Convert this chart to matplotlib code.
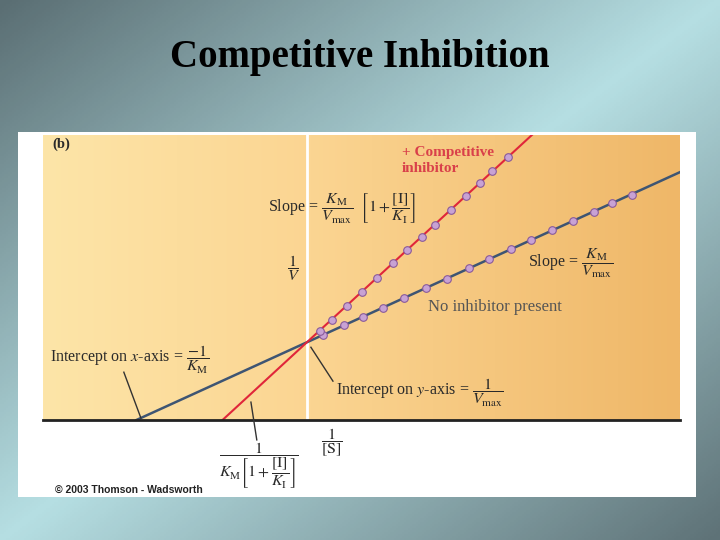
import numpy as np
import matplotlib.pyplot as plt
from matplotlib.colors import LinearSegmentedColormap
from matplotlib.patches import Rectangle

plt.rcParams['font.family'] = ['Liberation Serif', 'DejaVu Serif']
plt.rcParams['mathtext.fontset'] = 'stix'

# Lineweaver-Burk model
vmax = 1.0
km = 0.98
inhibitor_factor = 2.02  # 1 + [I]/K_I

# plotted points, x = 1/[S], y = 1/V
no_inhib_x = [0.096, 0.222, 0.335, 0.455, 0.581, 0.713, 0.838, 0.970,
              1.090, 1.222, 1.341, 1.467, 1.593, 1.719, 1.826, 1.946]
no_inhib_y = [1.09, 1.22, 1.33, 1.44, 1.57, 1.70, 1.82, 1.95,
              2.07, 2.20, 2.31, 2.44, 2.56, 2.68, 2.79, 2.90]
inhib_x = [0.078, 0.150, 0.240, 0.329, 0.419, 0.515, 0.599, 0.689,
           0.766, 0.862, 0.952, 1.036, 1.108, 1.204]
inhib_y = [1.15, 1.29, 1.47, 1.65, 1.83, 2.02, 2.19, 2.36,
           2.51, 2.70, 2.88, 3.05, 3.20, 3.38]

xlim = (-1.58, 2.234)
ylim = (0, 3.667)

fig = plt.figure(figsize=(7.2, 5.4), dpi=100)

# slide background, pixel coordinates
bg = fig.add_axes([0, 0, 1, 1])
bg.set_xlim(0, 720)
bg.set_ylim(540, 0)
bg.axis('off')
xx, yy = np.meshgrid(np.linspace(0, 1, 360), np.linspace(0, 1, 270))
t = (xx + yy) / 2
slide_cmap = LinearSegmentedColormap.from_list(
    'slide', ['#5a6e73', '#b6dfe3', '#5e7277'])
bg.imshow(t, cmap=slide_cmap, extent=(0, 720, 540, 0), aspect='auto', vmin=0, vmax=1)
panel = Rectangle((18, 132), 678, 365, facecolor='white', edgecolor='none')
bg.add_patch(panel)
bg.text(360, 57, 'Competitive Inhibition', ha='center', va='center',
        fontsize=28, fontweight='bold', color='black')

# the plot
ax = fig.add_axes([43 / 720, 1 - 420 / 540, 637 / 720, 285 / 540])
ax.set_xlim(*xlim)
ax.set_ylim(*ylim)
orange = LinearSegmentedColormap.from_list(
    'paper', [(0, '#fde5a8'), (0.42, '#fbd592'), (1, '#efb768')])
ax.imshow(np.linspace(0, 1, 256)[None, :], cmap=orange, aspect='auto',
          extent=(xlim[0], xlim[1], ylim[0], ylim[1]), zorder=0)
for side in ['top', 'left', 'right']:
    ax.spines[side].set_visible(False)
ax.spines['bottom'].set_color('#222222')
ax.spines['bottom'].set_linewidth(2)
ax.set_xticks([])
ax.set_yticks([])
ax.axvline(0, color='white', lw=2, zorder=1)

# fitted lines
xs = np.array([-1 / km, xlim[1]])
ax.plot(xs, km / vmax * xs + 1 / vmax, color='#3e5573', lw=1.8, zorder=2)
slope_i = km / vmax * inhibitor_factor
xs = np.array([-1 / slope_i, xlim[1]])
ax.plot(xs, slope_i * xs + 1 / vmax, color='#e0263a', lw=1.5, zorder=2)

mk = dict(marker='o', ls='none', ms=5.5, mfc='#c8a2d4', mec='#8a5a9a', mew=0.8, zorder=3)
ax.plot(no_inhib_x, no_inhib_y, **mk)
ax.plot(inhib_x, inhib_y, **mk)

# labels
dark = '#2a2a2a'
ax.text(-1.521, 3.551, '(b)', fontsize=10.5, fontweight='bold', color=dark, va='center')
ax.text(0.569, 3.436, '+ Competitive', fontsize=11, fontweight='bold', color='#d9404a', va='center')
ax.text(0.569, 3.231, 'inhibitor', fontsize=11, fontweight='bold', color='#d9404a', va='center')
ax.text(-0.234, 2.718,
        r'Slope = $\dfrac{K_\mathrm{M}}{V_\mathrm{max}}\ \ \left[1 + \dfrac{[\mathrm{I}]}{K_\mathrm{I}}\right]$',
        fontsize=11.5, color=dark, va='center')
ax.text(-0.078, 1.962, r'$\dfrac{1}{V}$', fontsize=11.5, color=dark, ha='center', va='center')
ax.text(1.323, 2.013, r'Slope = $\dfrac{K_\mathrm{M}}{V_\mathrm{max}}$',
        fontsize=11.5, color=dark, va='center')
ax.text(0.725, 1.449, 'No inhibitor present', fontsize=12, color='#555555', va='center')
ax.text(-1.539, 0.769, r'Intercept on $x$-axis = $\dfrac{-1}{K_\mathrm{M}}$',
        fontsize=11.5, color=dark, va='center')
ax.text(0.174, 0.346, r'Intercept on $y$-axis = $\dfrac{1}{V_\mathrm{max}}$',
        fontsize=11.5, color=dark, va='center')
ax.text(0.150, -0.295, r'$\dfrac{1}{[\mathrm{S}]}$', fontsize=11.5, color=dark,
        ha='center', va='center', clip_on=False)
lbl = ax.text(-0.287, -0.275,
              r'$\dfrac{1}{K_\mathrm{M}\left[1+\dfrac{[\mathrm{I}]}{K_\mathrm{I}}\right]}$',
              fontsize=11.5, color=dark, ha='center', va='top')
lbl.set_clip_path(panel)
ax.text(-1.509, -0.897, '\u00a9 2003 Thomson - Wadsworth', fontsize=7.5,
        fontweight='bold', family=['Liberation Sans', 'DejaVu Sans'], color='#222222',
        va='center', clip_on=False)

# leader lines
lead = dict(color='#333333', lw=1, clip_on=False, zorder=4)
ax.plot([-1.096, -0.994], [0.615, 0.026], **lead)
ax.plot([0.024, 0.156], [0.936, 0.50], **lead)
ax.plot([-0.335, -0.30], [0.23, -0.256], **lead)

fig.savefig('out.png', dpi=100)
